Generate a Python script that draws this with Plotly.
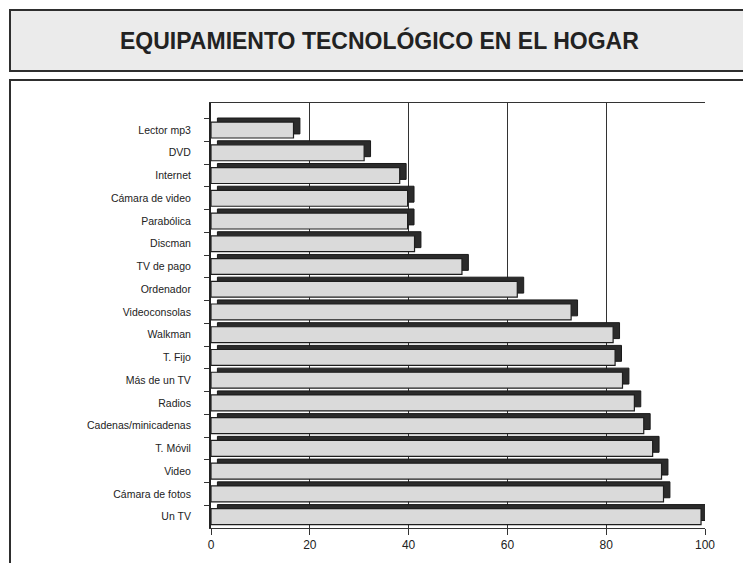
import plotly.graph_objects as go

categories = ["Lector mp3", "DVD", "Internet", "Cámara de video", "Parabólica", "Discman",
              "TV de pago", "Ordenador", "Videoconsolas", "Walkman", "T. Fijo", "Más de un TV",
              "Radios", "Cadenas/minicadenas", "T. Móvil", "Video", "Cámara de fotos", "Un TV"]
values = [16.7, 31.0, 38.2, 39.8, 39.8, 41.2, 50.8, 62.0, 72.9, 81.4, 81.8, 83.3,
          85.7, 87.6, 89.4, 91.2, 91.6, 99.2]
x_ticks = [0, 20, 40, 60, 80, 100]
title_text = "EQUIPAMIENTO TECNOLÓGICO EN EL HOGAR"

W, H = 751, 563
OFF = 8  # default page body margin: figure starts at page (8, 8)
# plot area in page pixels
PX0, PX1, PY0, PY1 = 211, 705, 103, 528
L = PX0 - OFF
T = PY0 - OFF
R = W - (PX1 - OFF)
B = H - (PY1 - OFF)
pw, ph = PX1 - PX0, PY1 - PY0

def px(x):
    return (x - PX0) / pw

def py(y):
    return (PY1 - y) / ph

FONT = "Liberation Sans Narrow, Arial Narrow, Liberation Sans, Arial, sans-serif"
depth_x = 1.3  # data units, sideways depth of the 3D effect

fig = go.Figure()
# depth (dark top/right faces)
fig.add_trace(go.Bar(
    y=categories, x=values, base=[depth_x] * len(values), orientation="h",
    width=0.7, offset=-0.53,
    marker=dict(color="#2b2b2b", line=dict(color="#1a1a1a", width=1)),
    hoverinfo="skip", showlegend=False))
# front faces
fig.add_trace(go.Bar(
    y=categories, x=values, orientation="h",
    width=0.7, offset=-0.35,
    marker=dict(color="#dadada", line=dict(color="#1e1e1e", width=1.2)),
    showlegend=False))

shapes = [
    # title box
    dict(type="rect", xref="paper", yref="paper", x0=px(10), x1=px(775), y0=py(71), y1=py(10),
         fillcolor="#ebebeb", line=dict(color="#2e2e2e", width=2), layer="below"),
    # chart panel box
    dict(type="rect", xref="paper", yref="paper", x0=px(10), x1=px(775), y0=py(590), y1=py(80),
         fillcolor="white", line=dict(color="#2e2e2e", width=2), layer="below"),
]

fig.update_layout(
    width=W, height=H, autosize=False,
    margin=dict(l=L, r=R, t=T, b=B, pad=0),
    paper_bgcolor="white", plot_bgcolor="rgba(0,0,0,0)",
    barmode="overlay", bargap=0.3,
    shapes=shapes,
    font=dict(family=FONT, size=10, color="#222"),
    annotations=[dict(text="<b>" + title_text + "</b>", xref="paper", yref="paper",
                      x=px(379), y=py(40), showarrow=False, xanchor="center", yanchor="middle",
                      font=dict(family=FONT, size=23, color="#222"))],
    xaxis=dict(range=[0, 100], tickvals=x_ticks, showgrid=True, gridcolor="#333", gridwidth=1,
               showline=True, linecolor="#333", linewidth=1, mirror=True,
               ticks="outside", ticklen=6, tickcolor="#333", zeroline=False,
               tickfont=dict(family=FONT, size=12, color="#222")),
    yaxis=dict(categoryorder="array", categoryarray=categories, range=[17.5, -1.19],
               showgrid=False, showline=True, linecolor="#222", linewidth=2, mirror=False,
               ticks="outside", ticklen=5, tickcolor="#333", tickson="boundaries",
               ticklabelstandoff=16,
               tickfont=dict(family=FONT, size=10.5, color="#222")),
)

fig.write_html("out.html")
